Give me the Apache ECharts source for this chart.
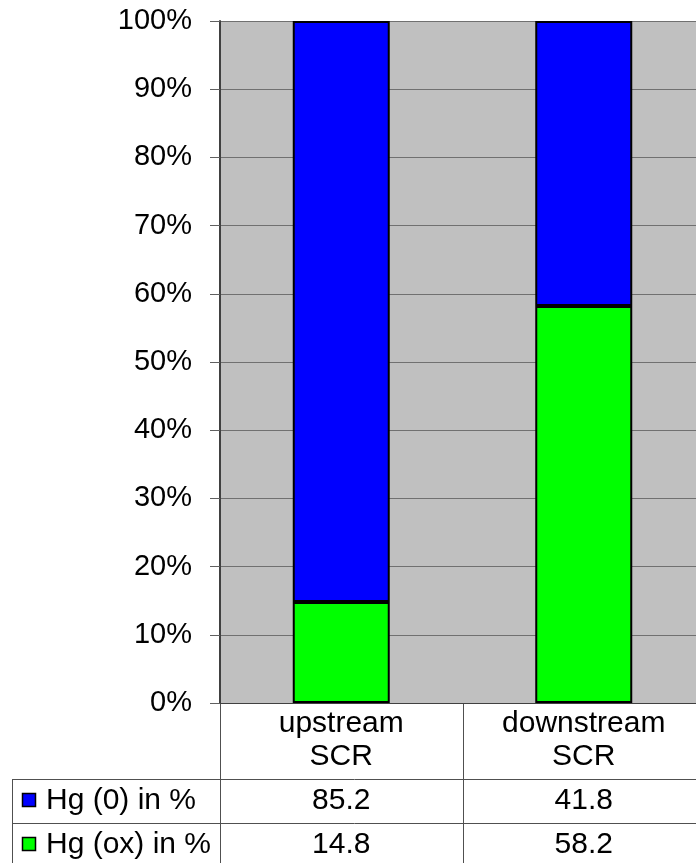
<!DOCTYPE html>
<html>
<head>
<meta charset="utf-8">
<script src="https://cdn.jsdelivr.net/npm/echarts@6/dist/echarts.min.js"></script>
<style>
  html, body { margin: 0; padding: 0; background: #fff; }
  #chart { width: 696px; height: 863px; }
</style>
</head>
<body>
<div id="chart"></div>
<script>
// Mercury speciation up- and downstream of the SCR
const categories = ['upstream\nSCR', 'downstream\nSCR'];
const seriesNames = ['Hg (0) in %', 'Hg (ox) in %'];
const hg0 = [85.2, 41.8];
const hgOx = [14.8, 58.2];
const yTicks = [0, 10, 20, 30, 40, 50, 60, 70, 80, 90, 100];

const FONT = '"Liberation Sans", Arial, sans-serif';
const FS_AXIS = 29;
const FS = 30;
const colors = { hg0: '#0000FF', hgOx: '#00FF00' };

const G = { left: 220, top: 21, width: 485, height: 682 };

const chart = echarts.init(document.getElementById('chart'), null, { renderer: 'canvas' });

chart.setOption({
  animation: false,
  backgroundColor: '#ffffff',
  textStyle: { fontFamily: FONT },
  grid: {
    left: G.left, top: G.top, width: G.width, height: G.height,
    outerBoundsMode: 'none', containLabel: false,
    show: true, backgroundColor: '#C0C0C0', borderWidth: 0
  },
  xAxis: {
    type: 'category',
    data: categories,
    axisLine: { show: true, lineStyle: { color: '#404040', width: 1 } },
    axisTick: { show: false },
    axisLabel: {
      color: '#000', fontFamily: FONT, fontSize: FS, lineHeight: 33, margin: 4
    }
  },
  yAxis: {
    type: 'value',
    min: yTicks[0], max: yTicks[yTicks.length - 1], interval: 10,
    axisLine: { show: true, lineStyle: { color: '#404040', width: 2 } },
    axisTick: { show: true, length: 10, lineStyle: { color: '#606060' } },
    axisLabel: {
      formatter: '{value}%', color: '#000', fontFamily: FONT, fontSize: FS_AXIS, margin: 28
    },
    splitLine: { show: true, lineStyle: { color: '#707070', width: 1 } }
  },
  series: [
    {
      name: seriesNames[1], type: 'bar', stack: 'hg', data: hgOx, barWidth: '40%',
      itemStyle: { color: colors.hgOx, borderColor: '#000', borderWidth: 2 }
    },
    {
      name: seriesNames[0], type: 'bar', stack: 'hg', data: hg0, barWidth: '40%',
      itemStyle: { color: colors.hg0, borderColor: '#000', borderWidth: 2 }
    }
  ]
});

// Data table underneath the plot
const bottom = G.top + G.height;
const colW = G.width / categories.length;
const rowTop = [779, 823];
const rowH = 44;
const lineColor = '#505050';
const els = [];

function line(x1, y1, x2, y2) {
  els.push({ type: 'line', silent: true,
    shape: { x1, y1, x2, y2 },
    style: { stroke: lineColor, lineWidth: 1 } });
}

// vertical rules
line(G.left + 0.5, bottom, G.left + 0.5, 863);
for (let i = 1; i < categories.length; i++) {
  const x = Math.round(G.left + colW * i) + 0.5;
  line(x, bottom, x, 863);
}
line(12.5, rowTop[0], 12.5, 863);
// horizontal rules
rowTop.forEach(y => line(12, y + 0.5, 705, y + 0.5));

const rows = [
  { name: seriesNames[0], values: hg0, color: colors.hg0 },
  { name: seriesNames[1], values: hgOx, color: colors.hgOx }
];
rows.forEach((r, i) => {
  const cy = rowTop[i] + rowH / 2;
  els.push({ type: 'rect', silent: true,
    shape: { x: 22.5, y: cy - 7.5, width: 13, height: 13 },
    style: { fill: r.color, stroke: '#000', lineWidth: 1.5 } });
  els.push({ type: 'text', silent: true, x: 46, y: cy,
    style: { text: r.name, font: FS + 'px ' + FONT, fill: '#000',
      textAlign: 'left', textVerticalAlign: 'middle' } });
  r.values.forEach((v, j) => {
    const cx = chart.convertToPixel({ xAxisIndex: 0 }, j);
    els.push({ type: 'text', silent: true, x: cx, y: cy,
      style: { text: v.toFixed(1), font: FS + 'px ' + FONT, fill: '#000',
        textAlign: 'center', textVerticalAlign: 'middle' } });
  });
});

chart.setOption({ graphic: { elements: els } });
</script>
</body>
</html>
